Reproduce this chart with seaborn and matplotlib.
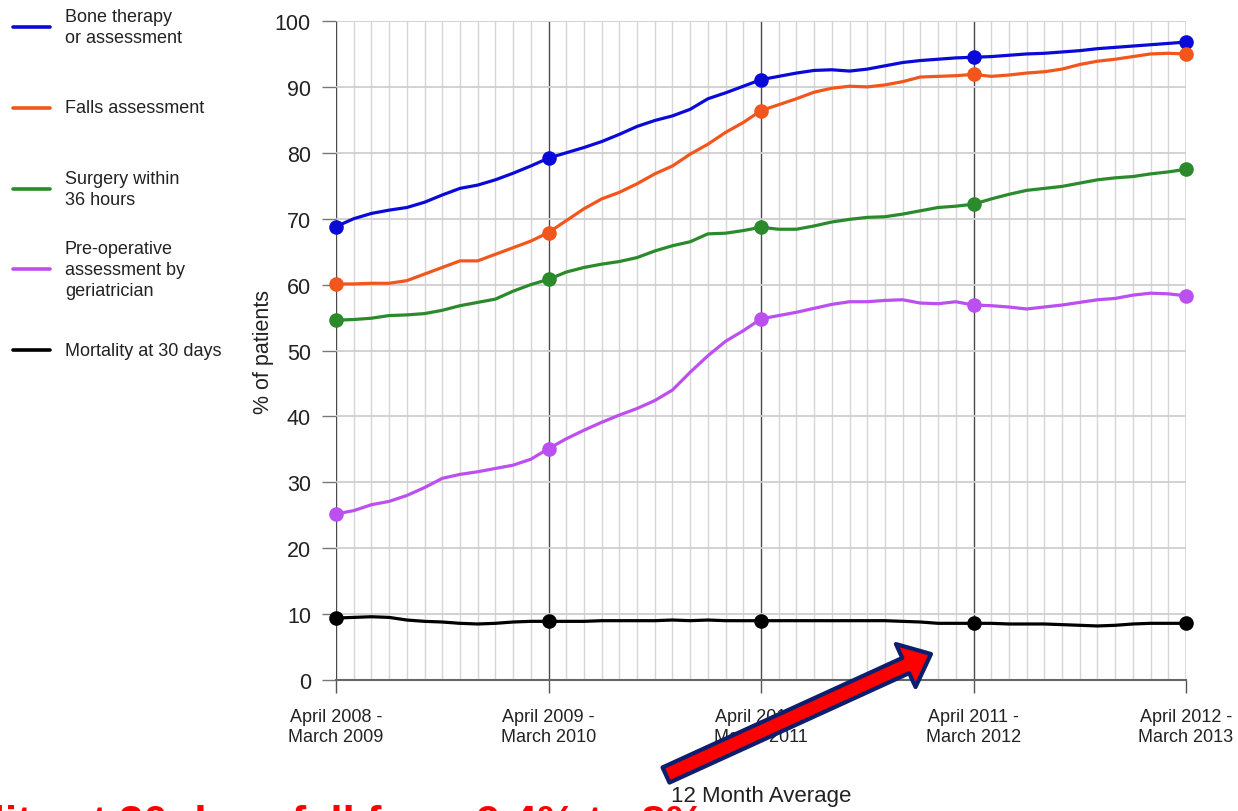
import numpy as np
import pandas as pd
import matplotlib
matplotlib.use("Agg")
import matplotlib.pyplot as plt
from matplotlib.ticker import MultipleLocator
from matplotlib.patches import FancyArrowPatch
from matplotlib.lines import Line2D
import seaborn as sns

# ---- data: rolling 12-month averages, one value per month (Apr 2008 .. Apr 2012) ----
series_names = [
    "Bone therapy\nor assessment",
    "Falls assessment",
    "Surgery within\n36 hours",
    "Pre-operative\nassessment by\ngeriatrician",
    "Mortality at 30 days",
]
series_colors = ["#0a0ad8", "#f2561d", "#2b8a2b", "#bb4ff0", "#000000"]

bone_therapy = [
    68.8, 70.0, 70.8, 71.3, 71.7, 72.5, 73.6, 74.6, 75.1, 75.9, 76.9, 78.0, 79.2,
    80.0, 80.8, 81.7, 82.8, 84.0, 84.9, 85.6, 86.6, 88.2, 89.1, 90.1, 91.1,
    91.6, 92.1, 92.5, 92.6, 92.4, 92.7, 93.2, 93.7, 94.0, 94.2, 94.4, 94.5,
    94.6, 94.8, 95.0, 95.1, 95.3, 95.5, 95.8, 96.0, 96.2, 96.4, 96.6, 96.8,
]
falls_assessment = [
    60.1, 60.1, 60.2, 60.2, 60.6, 61.6, 62.6, 63.6, 63.6, 64.6, 65.6, 66.6, 67.9,
    69.7, 71.5, 73.0, 74.0, 75.3, 76.8, 78.0, 79.8, 81.3, 83.1, 84.6, 86.4,
    87.3, 88.2, 89.2, 89.8, 90.1, 90.0, 90.3, 90.8, 91.5, 91.6, 91.7, 91.9,
    91.6, 91.8, 92.1, 92.3, 92.7, 93.4, 93.9, 94.2, 94.6, 95.0, 95.1, 95.0,
]
surgery_36h = [
    54.6, 54.7, 54.9, 55.3, 55.4, 55.6, 56.1, 56.8, 57.3, 57.8, 59.0, 60.0, 60.8,
    61.9, 62.6, 63.1, 63.5, 64.1, 65.1, 65.9, 66.5, 67.7, 67.8, 68.2, 68.7,
    68.4, 68.4, 68.9, 69.5, 69.9, 70.2, 70.3, 70.7, 71.2, 71.7, 71.9, 72.2,
    73.0, 73.7, 74.3, 74.6, 74.9, 75.4, 75.9, 76.2, 76.4, 76.8, 77.1, 77.5,
]
geriatrician = [
    25.2, 25.7, 26.6, 27.1, 28.0, 29.2, 30.6, 31.2, 31.6, 32.1, 32.6, 33.5, 35.1,
    36.6, 37.9, 39.1, 40.2, 41.2, 42.4, 44.0, 46.7, 49.2, 51.4, 53.0, 54.8,
    55.3, 55.8, 56.4, 57.0, 57.4, 57.4, 57.6, 57.7, 57.2, 57.1, 57.4, 56.9,
    56.8, 56.6, 56.3, 56.6, 56.9, 57.3, 57.7, 57.9, 58.4, 58.7, 58.6, 58.3,
]
mortality_30d = [
    9.4, 9.5, 9.6, 9.5, 9.1, 8.9, 8.8, 8.6, 8.5, 8.6, 8.8, 8.9, 8.9,
    8.9, 8.9, 9.0, 9.0, 9.0, 9.0, 9.1, 9.0, 9.1, 9.0, 9.0, 9.0,
    9.0, 9.0, 9.0, 9.0, 9.0, 9.0, 9.0, 8.9, 8.8, 8.6, 8.6, 8.6,
    8.6, 8.5, 8.5, 8.5, 8.4, 8.3, 8.2, 8.3, 8.5, 8.6, 8.6, 8.6,
]
period_labels = [
    "April 2008 -\nMarch 2009",
    "April 2009 -\nMarch 2010",
    "April 2010 -\nMarch 2011",
    "April 2011 -\nMarch 2012",
    "April 2012 -\nMarch 2013",
]
y_ticks = [0, 10, 20, 30, 40, 50, 60, 70, 80, 90, 100]
headline = "Mortality at 30 days fell from 9.4% to 8%"

all_values = [bone_therapy, falls_assessment, surgery_36h, geriatrician, mortality_30d]
rows = []
for name, vals in zip(series_names, all_values):
    for m, v in enumerate(vals):
        rows.append({"month": m, "value": v, "series": name})
df = pd.DataFrame(rows)

# ---- style ----
sns.set_theme(style="white")
plt.rcParams["font.family"] = ["Liberation Sans", "DejaVu Sans"]
text_col = "#222222"

W, H = 1238, 812
fig = plt.figure(figsize=(W / 100, H / 100), dpi=100)
ax_l, ax_r, ax_t, ax_b = 336, 1186, 22, 681
ax = fig.add_axes([ax_l / W, (H - ax_b) / H, (ax_r - ax_l) / W, (ax_b - ax_t) / H])

sns.lineplot(
    data=df, x="month", y="value", hue="series",
    palette=dict(zip(series_names, series_colors)),
    hue_order=series_names, legend=False, ax=ax,
    linewidth=2.3, marker="o", markevery=12, markersize=10.5,
    markeredgewidth=0, zorder=5,
)
for ln in ax.lines:
    ln.set_clip_on(False)

n_months = len(bone_therapy) - 1
ax.set_xlim(0, n_months)
ax.set_ylim(0, 100)

# grid: monthly light lines, yearly dark lines, horizontal every 10
ax.xaxis.set_major_locator(MultipleLocator(12))
ax.xaxis.set_minor_locator(MultipleLocator(1))
ax.set_yticks(y_ticks)
ax.grid(which="minor", axis="x", color="#d6d6d6", linewidth=1.0, zorder=0)
ax.grid(which="major", axis="x", color="#4a4a4a", linewidth=1.0, zorder=1)
ax.grid(which="major", axis="y", color="#cfcfcf", linewidth=1.3, zorder=0)
ax.set_axisbelow(True)

for side in ["top", "right", "left"]:
    ax.spines[side].set_visible(False)
ax.spines["bottom"].set_color("#666666")
ax.spines["bottom"].set_linewidth(1.5)

ax.set_xticks(range(0, n_months + 1, 12))
ax.set_xticklabels(period_labels, fontsize=13, color=text_col, linespacing=1.25)
ax.tick_params(axis="x", which="major", length=9, width=1.0, color="#555555",
               direction="out", pad=11, bottom=True)
ax.tick_params(axis="x", which="minor", length=0)
ax.set_yticklabels([str(t) for t in y_ticks], fontsize=15.5, color=text_col)
ax.tick_params(axis="y", length=10, width=1.0, color="#777777",
               direction="out", pad=8, left=True)

ax.set_ylabel("% of patients", fontsize=15.5, color=text_col)
ax.yaxis.label.set_va("center")
ax.yaxis.set_label_coords((263 - ax_l) / (ax_r - ax_l), 0.5)
ax.set_xlabel("12 Month Average", fontsize=16, color=text_col)
ax.xaxis.label.set_va("center")
ax.xaxis.set_label_coords(0.5, -(797 - ax_b) / (ax_b - ax_t))

# ---- legend on the left ----
for i, (name, col) in enumerate(zip(series_names, series_colors)):
    yc = (H - (28 + 80.8 * i)) / H
    fig.add_artist(Line2D([13 / W, 50 / W], [yc, yc], color=col, linewidth=2.6))
    fig.text(65 / W, yc, name, fontsize=13, color=text_col, va="center",
             ha="left", linespacing=1.32)

# ---- headline at the bottom and arrow ----
fig.text(704 / W, -25 / H, headline, fontsize=31.5, fontweight="bold",
         color="#ff0000", ha="right", va="baseline", zorder=-1)

arrow = FancyArrowPatch(
    (666 / W, (H - 776) / H), (931 / W, (H - 655) / H),
    arrowstyle="simple,head_length=1.0,head_width=1.7,tail_width=0.6",
    mutation_scale=20, facecolor="#ff0000", edgecolor="#0c1f6e",
    linewidth=3, shrinkA=0, shrinkB=0, zorder=20,
)
fig.add_artist(arrow)

fig.savefig("out.png", dpi=100)
